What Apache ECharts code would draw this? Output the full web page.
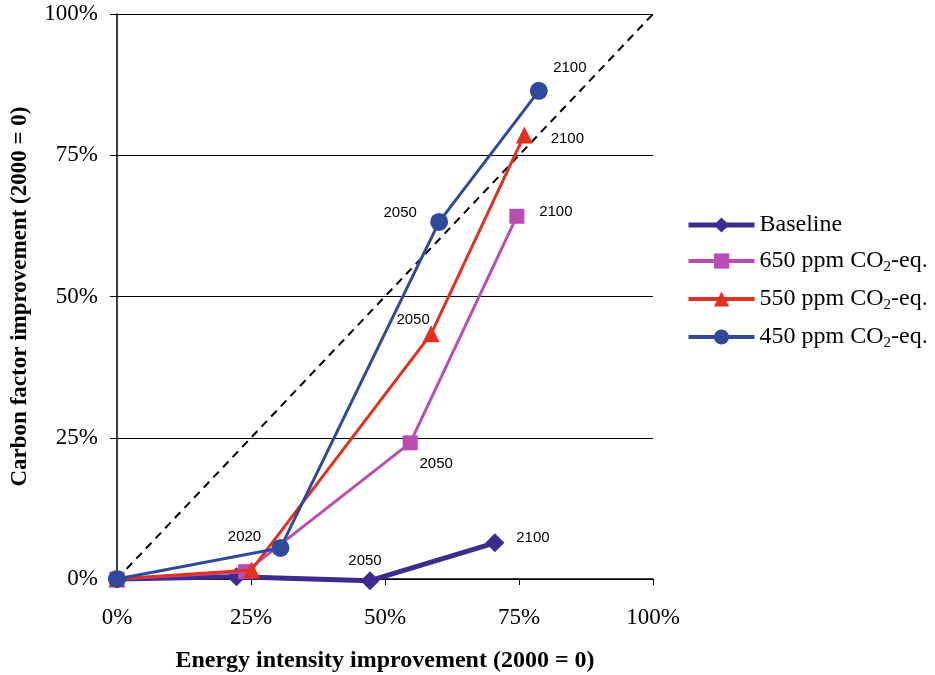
<!DOCTYPE html>
<html><head><meta charset="utf-8">
<script src="https://cdn.jsdelivr.net/npm/echarts@6/dist/echarts.min.js"></script>
<style>html,body{margin:0;padding:0;background:#fff}#c{width:935px;height:675px}</style>
</head><body><div id="c"></div>
<script>
// ---- data ----
const years = ['2000', '2020', '2050', '2100'];
const seriesNames = ['Baseline', '650 ppm CO2-eq.', '550 ppm CO2-eq.', '450 ppm CO2-eq.'];
const baselineX = [0, 22.3, 47.2, 70.5];
const baselineY = [0, 0.4, -0.3, 6.4];
const ppm650X = [0, 24.0, 54.7, 74.6];
const ppm650Y = [0, 1.3, 24.1, 64.2];
const ppm550X = [0, 25.1, 58.6, 76.0];
const ppm550Y = [0, 1.6, 43.4, 78.6];
const ppm450X = [0, 30.5, 60.1, 78.7];
const ppm450Y = [0, 5.5, 63.2, 86.4];
const diagonalX = [0, 100];
const diagonalY = [0, 100];

// which year labels are shown per series (index into years) with offsets (style)
const labelCfg = {
  'Baseline': {2: [-5, -20], 3: [38, -5]},
  '650 ppm CO2-eq.': {2: [26, 21], 3: [39, -4]},
  '550 ppm CO2-eq.': {2: [-18, -14], 3: [43, 4]},
  '450 ppm CO2-eq.': {1: [-36, -11], 2: [-39, -9], 3: [31, -23]}
};

const styles = {
  'Baseline': {color: '#3e2b8d', symbol: 'diamond', size: 19, width: 5, lw: 5},
  '650 ppm CO2-eq.': {color: '#b94db3', symbol: 'rect', size: 15, width: 3, lw: 4},
  '550 ppm CO2-eq.': {color: '#e3301f', symbol: 'triangle', size: 17, width: 3, lw: 4},
  '450 ppm CO2-eq.': {color: '#2f4a9d', symbol: 'circle', size: 18, width: 3, lw: 4}
};
const xs = [baselineX, ppm650X, ppm550X, ppm450X];
const ys = [baselineY, ppm650Y, ppm550Y, ppm450Y];

function buildData(name, X, Y) {
  return X.map((x, i) => {
    const item = {value: [x, Y[i]]};
    const c = labelCfg[name][i];
    if (c) {
      item.label = {show: true, position: 'inside', offset: c, formatter: years[i],
        color: '#000', fontFamily: 'Liberation Sans, Arial, sans-serif', fontSize: 15};
    }
    return item;
  });
}

const series = seriesNames.map((n, k) => ({
  name: n, type: 'line',
  data: buildData(n, xs[k], ys[k]),
  symbol: styles[n].symbol, symbolSize: styles[n].size,
  itemStyle: {color: styles[n].color},
  lineStyle: {color: styles[n].color, width: styles[n].width},
  label: {show: false},
  emphasis: {disabled: true},
  clip: false,
  z: 3 + k
}));
series.unshift({
  name: 'diag', type: 'line', data: diagonalX.map((x, i) => [x, diagonalY[i]]),
  symbol: 'none', lineStyle: {color: '#000', width: 2, type: [8, 6]}, z: 2, silent: true
});

const serif = 'Liberation Serif, Times New Roman, serif';
const chart = echarts.init(document.getElementById('c'));
chart.setOption({
  animation: false,
  grid: {left: 117, right: 282, top: 14, bottom: 96, containLabel: false, outerBoundsMode: 'none'},
  legend: {
    data: seriesNames.map(n => ({name: n, lineStyle: {width: styles[n].lw}})),
    orient: 'vertical', left: 681, top: 208,
    itemWidth: 66, itemHeight: 19, itemGap: 12,
    formatter: function (n) { return n.replace('CO2', 'CO{sub|2}'); },
    textStyle: {fontFamily: serif, fontSize: 24, color: '#000',
      rich: {sub: {fontFamily: serif, fontSize: 15, verticalAlign: 'bottom', padding: [13, 0, 0, 0]}}}
  },
  xAxis: {
    type: 'value', min: 0, max: 100, interval: 25,
    name: 'Energy intensity improvement (2000 = 0)', nameLocation: 'middle', nameGap: 70,
    nameTextStyle: {fontFamily: serif, fontWeight: 'bold', fontSize: 24, color: '#000'},
    axisLine: {onZero: false, lineStyle: {color: '#000', width: 1.5}},
    axisTick: {show: true, length: 6, lineStyle: {color: '#000'}},
    axisLabel: {formatter: v => v + '%', margin: 27, fontFamily: serif, fontSize: 23, color: '#000'},
    splitLine: {show: false}
  },
  yAxis: {
    type: 'value', min: 0, max: 100, interval: 25,
    name: 'Carbon factor improvement (2000 = 0)', nameLocation: 'middle', nameGap: 85, nameRotate: 90,
    nameTextStyle: {fontFamily: serif, fontWeight: 'bold', fontSize: 23, color: '#000'},
    axisLine: {show: true, lineStyle: {color: '#000', width: 1.5}},
    axisTick: {show: true, length: 7, lineStyle: {color: '#000'}},
    axisLabel: {formatter: v => v + '%', margin: 19, fontFamily: serif, fontSize: 23, color: '#000'},
    splitLine: {show: true, lineStyle: {color: '#000', width: 1.2}}
  },
  series: series
});
</script></body></html>
